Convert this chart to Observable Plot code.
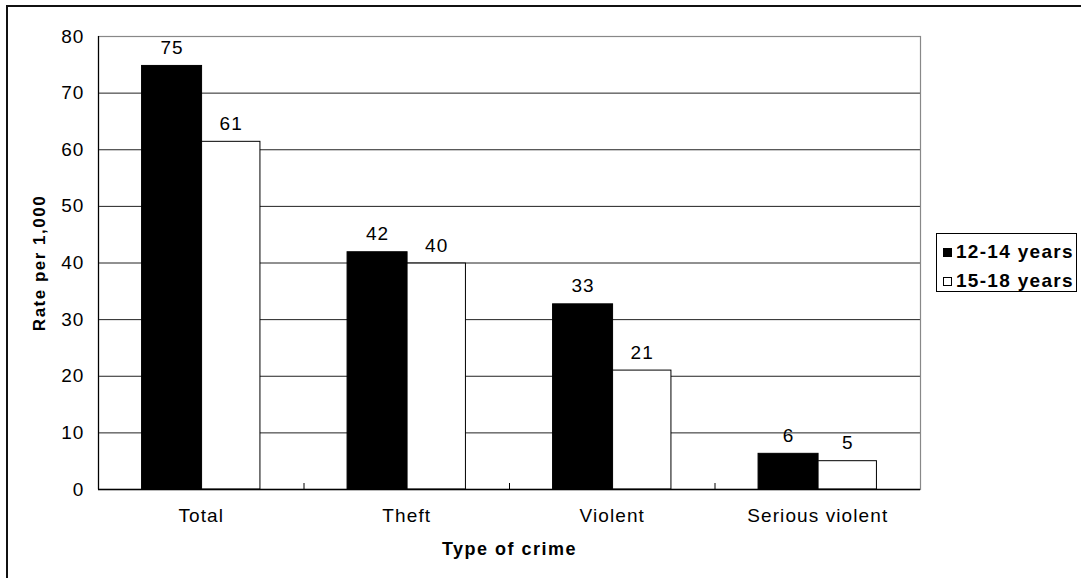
<!DOCTYPE html>
<html><head><meta charset="utf-8">
<script src="https://cdn.jsdelivr.net/npm/d3@7"></script>
<script src="https://cdn.jsdelivr.net/npm/@observablehq/plot@0.6"></script>
<style>
body{margin:0;background:#fff;overflow:hidden;width:1081px;height:578px;position:relative;font-family:"Liberation Sans",Arial,sans-serif;}
#border{position:absolute;left:6px;top:5px;width:2000px;height:2000px;border-left:2px solid #111;border-top:2px solid #111;}
#chart{position:absolute;left:0;top:0;}
#chart svg text{letter-spacing:1.1px;}
#chart svg g[font-weight="bold"] text{letter-spacing:1.5px;}
#legend{position:absolute;left:936px;top:233px;width:141px;height:59px;border:1px solid #000;box-sizing:border-box;background:#fff;}
.row{position:absolute;left:6px;height:20px;display:flex;align-items:center;font-weight:bold;font-size:19px;letter-spacing:1.3px;color:#000;white-space:nowrap;}
.sw{width:9px;height:9px;border:1px solid #000;box-sizing:border-box;margin-right:4px;flex:none;}
</style></head>
<body>
<div id="border"></div>
<div id="chart"></div>
<div id="legend"></div>
<script>
const categories = ["Total", "Theft", "Violent", "Serious violent"];
const seriesNames = ["12-14 years", "15-18 years"];
const values1214 = [74.8, 41.9, 32.7, 6.3];
const values1518 = [61.4, 39.9, 21.0, 5.0];
const yTicks = [0, 10, 20, 30, 40, 50, 60, 70, 80];
const seriesFill = ["#000", "#fff"];

// position of each series' bar inside its category slot (fraction of slot)
const slots = [[0.212, 0.504], [0.504, 0.788]];

const data = [];
categories.forEach((c, i) => {
  [values1214, values1518].forEach((vals, s) => {
    data.push({cat: c, idx: i, series: seriesNames[s], s, value: vals[i]});
  });
});

const W = 1081, H = 578;
const chart = Plot.plot({
  width: W, height: H,
  marginLeft: 98, marginRight: 161, marginTop: 36, marginBottom: 89,
  style: {fontFamily: '"Liberation Sans", Arial, sans-serif', fontSize: "19px", color: "#000", background: "transparent", overflow: "visible"},
  x: {type: "linear", domain: [0, categories.length], axis: null},
  y: {domain: [0, 80], axis: null},
  marks: [
    Plot.ruleY(yTicks.filter(t => t > 0 && t < 80), {stroke: "#222", strokeWidth: 1}),
    Plot.frame({stroke: "#888", strokeWidth: 1.2}),
    Plot.rectY(data, {
      x1: d => d.idx + slots[d.s][0],
      x2: d => d.idx + slots[d.s][1],
      y1: 0, y2: "value",
      fill: d => seriesFill[d.s], stroke: "#000", strokeWidth: 1
    }),
    Plot.ruleX([0], {stroke: "#000", strokeWidth: 1.2}),
    Plot.ruleY([0], {stroke: "#000", strokeWidth: 1.5}),
    Plot.text(data, {
      x: d => d.idx + (slots[d.s][0] + slots[d.s][1]) / 2,
      y: "value",
      text: d => String(Math.round(d.value)),
      dy: -18, fontSize: 19, fill: "#000"
    }),
    Plot.axisY(yTicks, {tickSize: 0, tickPadding: 14, label: null, fontSize: 19}),
    Plot.axisX(d3.range(categories.length).map(i => i + 0.5), {
      tickSize: 0, tickPadding: 19, label: null, fontSize: 19,
      tickFormat: d => categories[Math.floor(d)]
    }),
    Plot.axisX(d3.range(1, categories.length), {tickSize: -6, tickFormat: () => "", label: null, stroke: "#000"}),
    Plot.text(["Type of crime"], {frameAnchor: "bottom", lineAnchor: "middle", dy: 60, fontWeight: "bold", fontSize: 18}),
    Plot.text(["Rate per 1,000"], {frameAnchor: "left", textAnchor: "middle", dx: -59, rotate: -90, fontWeight: "bold", fontSize: 17})
  ]
});
document.getElementById("chart").appendChild(chart);

const legend = document.getElementById("legend");
seriesNames.forEach((name, s) => {
  const row = document.createElement("div");
  row.className = "row";
  row.style.top = (8 + s * 29) + "px";
  const sw = document.createElement("div");
  sw.className = "sw";
  sw.style.background = seriesFill[s];
  row.appendChild(sw);
  const t = document.createElement("span");
  t.textContent = name;
  row.appendChild(t);
  legend.appendChild(row);
});
</script>
</body></html>
